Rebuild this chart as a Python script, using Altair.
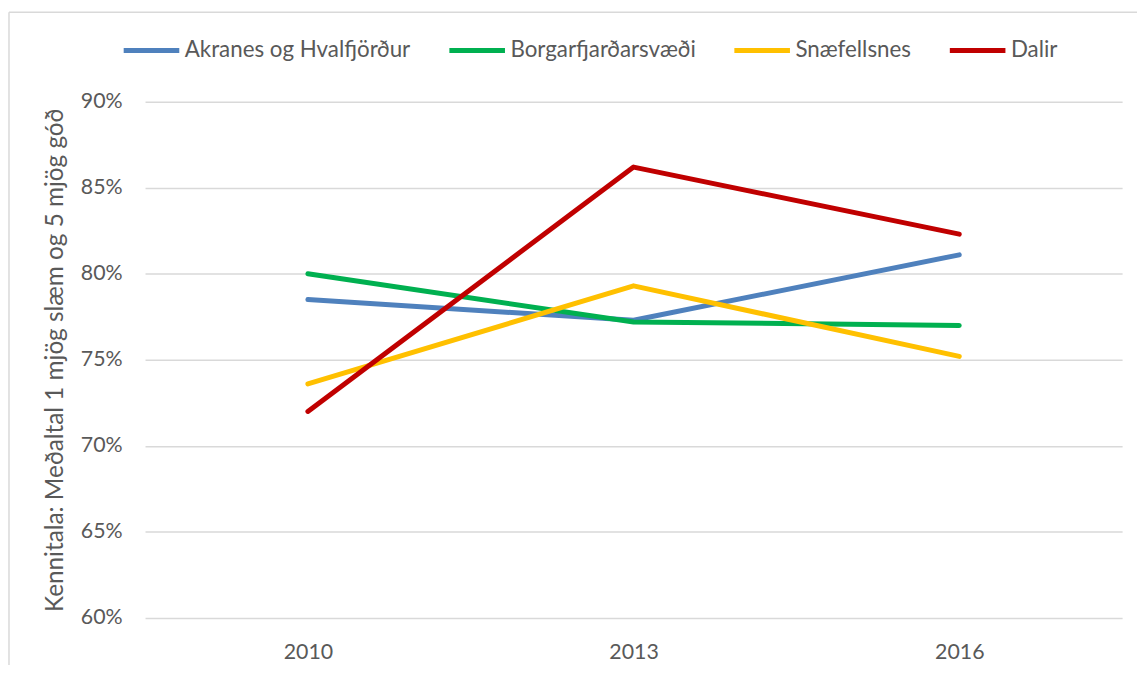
import altair as alt
import pandas as pd

years = ["2010", "2013", "2016"]
series = ["Akranes og Hvalfjörður", "Borgarfjarðarsvæði", "Snæfellsnes", "Dalir"]
akranes = [0.785, 0.773, 0.811]
borgar = [0.800, 0.772, 0.770]
snaef = [0.736, 0.793, 0.752]
dalir = [0.720, 0.862, 0.823]
colors = ["#4F81BD", "#00B050", "#FFC000", "#C00000"]

rows = []
for name, vals in zip(series, [akranes, borgar, snaef, dalir]):
    for y, v in zip(years, vals):
        rows.append({"Ár": y, "Svæði": name, "Gildi": v, "order": series.index(name)})
df = pd.DataFrame(rows)

FONT = "Lato"
TXT = "#595959"
GRID = "#D9D9D9"

lines = alt.Chart(df).mark_line(strokeWidth=5, strokeCap="round", strokeJoin="round").encode(
    x=alt.X("Ár:N", sort=years, scale=alt.Scale(padding=0.5),
            axis=alt.Axis(title=None, labelAngle=0, ticks=False, domain=False, grid=False,
                          labelPadding=24, labelFontSize=21.5, labelColor=TXT, labelFont=FONT)),
    y=alt.Y("Gildi:Q", scale=alt.Scale(domain=[0.6, 0.9], nice=False, zero=False),
            axis=alt.Axis(title="Kennitala: Meðaltal 1 mjög slæm og 5 mjög góð", format=".0%",
                          values=[0.6, 0.65, 0.7, 0.75, 0.8, 0.85, 0.9],
                          ticks=False, domain=False, gridColor=GRID, gridWidth=1.5,
                          labelPadding=23, labelFontSize=21.5, labelColor=TXT, labelFont=FONT,
                          titleFontSize=24.5, titleFontWeight="normal", titleColor=TXT, titleFont=FONT,
                          titlePadding=13)),
    color=alt.Color("Svæði:N", sort=series, scale=alt.Scale(domain=series, range=colors),
                    legend=alt.Legend(title=None, orient="none", legendX=-24, legendY=-82,
                                      direction="horizontal", symbolType="stroke",
                                      symbolSize=3136, symbolStrokeWidth=5, columnPadding=28,
                                      labelOffset=3, labelFontSize=22.5, labelColor=TXT, labelFont=FONT,
                                      labelLimit=0, padding=0)),
    order=alt.Order("order:Q"),
    detail="Svæði:N",
)

border_data = alt.Data(values=[{"a": 1}])
left_border = alt.Chart(border_data).mark_rule(color=GRID, strokeWidth=1.5).encode(
    x=alt.value(-137), y=alt.value(-90), y2=alt.value(600))
top_border = alt.Chart(border_data).mark_rule(color=GRID, strokeWidth=1.5).encode(
    x=alt.value(-137), x2=alt.value(1010), y=alt.value(-90))

chart = alt.layer(left_border, top_border, lines).properties(
    width=984, height=520,
    autosize=alt.AutoSizeParams(type="none"),
    padding={"left": 138, "top": 92, "right": 15, "bottom": 45},
    background="white",
).configure_view(stroke=None)

chart.save("out.html", embed_options={"renderer": "svg", "actions": False})
